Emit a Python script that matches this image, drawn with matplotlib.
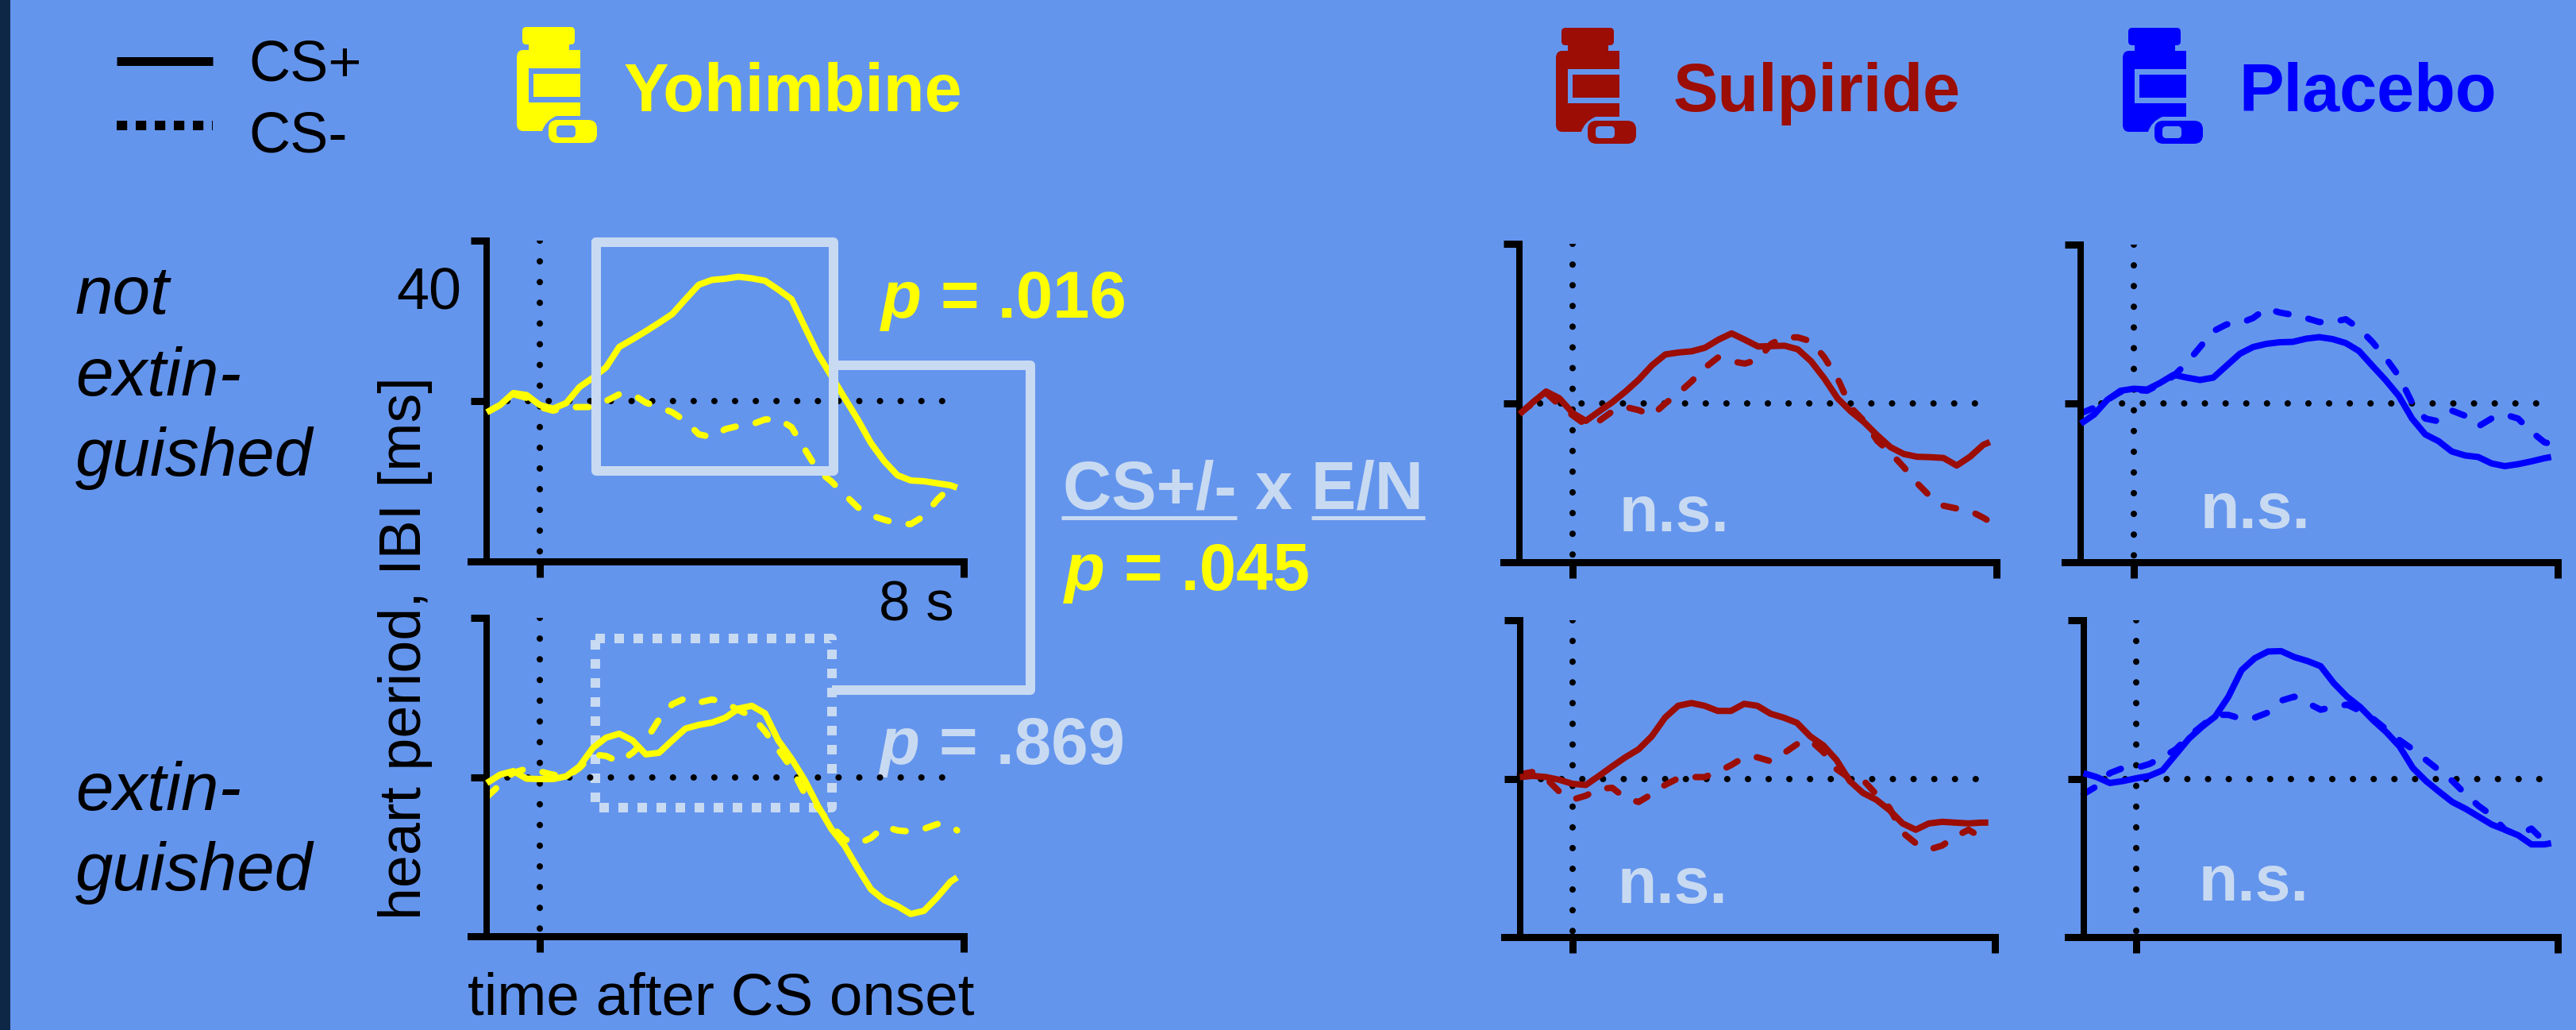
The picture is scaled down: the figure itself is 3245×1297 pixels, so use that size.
import numpy as np
import matplotlib
matplotlib.use("Agg")
import matplotlib.pyplot as plt
from matplotlib.patches import FancyBboxPatch, Rectangle, PathPatch
from matplotlib.path import Path

plt.rcParams['font.family'] = ['Liberation Sans', 'DejaVu Sans']

# time after CS onset [s]
time_s = [-1, -0.75, -0.5, -0.25, 0, 0.25, 0.5, 0.75, 1, 1.25, 1.5, 1.75, 2, 2.25, 2.5, 2.75, 3, 3.25, 3.5,
          3.75, 4, 4.25, 4.5, 4.75, 5, 5.25, 5.5, 5.75, 6, 6.25, 6.5, 6.75, 7, 7.25, 7.5, 7.75, 7.875]

# heart period change [ms]
yoh_not_plus = [-2.8, -1, 2, 1.5, -1, -1.9, -0.5, 3.5, 5.8, 8.4, 13.5, 15.4, 17.4, 19.5, 21.7, 25.4, 29, 30.2, 30.5,
                31, 30.6, 30, 27.8, 25.4, 18.5, 11.7, 6.3, 0.8, -4.6, -10.5, -15, -18.5, -19.8, -20, -20.5, -21, -21.6]
yoh_not_minus = [-2.8, -1, 1.7, 0.8, -1.5, -2.4, -1.6, -1.5, -1.5, 0, 1.7, 1.7, -0.4, -1.5, -2.8, -5, -8.3, -9, -7,
                 -6.2, -5.8, -4.6, -4.5, -6.5, -12, -17.4, -20, -23.3, -26.5, -28.5, -29.6, -30.5, -30.7, -28.7, -24.6, -21.5, -21.6]
yoh_ext_plus = [-1.5, 0.6, 1.5, -0.4, -0.5, -0.5, 0.2, 2.7, 7.3, 9.9, 10.9, 9.2, 5.7, 6.1, 9.2, 12.2, 13.1, 13.7, 14.9,
                17.2, 17.9, 16, 9.2, 4.6, -0.8, -7.3, -13, -17.2, -22.9, -28.2, -30.9, -32.4, -34.4, -33.6, -30.2, -26.3, -25.2]
yoh_ext_minus = [-5, -1.9, 1.1, 2.1, 1.4, 0.6, 0, 2.3, 5.7, 5.3, 3.8, 6.1, 9.2, 14.5, 18.3, 19.8, 18.7, 19.5, 18.7,
                 16.8, 15.3, 11.5, 6.9, 2.3, -4.2, -7.6, -12.2, -15.6, -16.8, -15.3, -12.4, -13.4, -13.7, -13, -11.8, -12.2, -13.4]

sul_not_plus = [-2.8, 0.2, 2.9, 1.2, -2.5, -4.5, -2.1, 0.2, 2.9, 5.9, 9.5, 12.2, 12.7, 13, 13.9, 15.9, 17.5, 15.9, 14.2,
                14.3, 14.4, 13.5, 10.5, 6.2, 1.2, -2.1, -4.8, -8.1, -11.1, -12.8, -13.5, -13.6, -13.8, -15.7, -13.5, -10.5, -9.8]
sul_not_minus = [-2.5, -0.1, 2.5, -0.5, -3.1, -5.5, -4.5, -2.1, -1, -1.8, -3.1, -0.1, 2.5, 5.5, 8.9, 11.5, 10.5, 9.9, 10.9,
                 14.9, 16.5, 16.5, 15.5, 11.5, 6.2, -1.1, -4.5, -9.5, -12.5, -16.1, -20.1, -23.5, -25.8, -26.5, -27.1, -28.8, -29.8]
sul_ext_plus = [0.4, 0.7, 0.4, -0.3, -1.3, -1.6, 0.7, 3.1, 5.4, 7.4, 10.7, 15.4, 18.4, 19.1, 18.4, 17.1, 17.1, 18.9, 18.4,
                16.4, 15.4, 14.1, 10.7, 8.4, 4.7, -0.6, -3.6, -5.3, -7.9, -11.3, -12.9, -11.3, -10.9, -11.1, -11.3, -11.1, -11.1]
sul_ext_minus = [1.1, 1.7, 0, -3.3, -5.3, -4.3, -2.6, -2.3, -4.9, -5.9, -3.9, -1.6, 0.1, 0.4, 0.4, 1.7, 3.4, 5.4, 5.4,
                 4.4, 6.4, 8.7, 9.7, 6.7, 2.4, 0.1, -0.3, -3.9, -7.3, -13.6, -16.3, -17.9, -16.9, -14.6, -12.9, -14.9, -15.9]

pla_not_plus = [-5.1, -2.8, 0.9, 3.2, 3.7, 3.5, 5.2, 7.2, 6.5, 5.9, 6.5, 9.5, 12.5, 14.2, 15, 15.4, 15.5, 16.3, 16.7,
                16.2, 15.2, 13.2, 9.5, 5.9, 1.9, -3.8, -7.8, -9.5, -12.1, -13.1, -13.5, -15.1, -15.8, -15.3, -14.6, -13.8, -13.5]
pla_not_minus = [-2.5, -1.1, 0.9, 2.9, 3.4, 3.2, 4.9, 6.9, 10.2, 14.2, 18.2, 19.9, 20.2, 21.5, 23.9, 22.9, 22.3, 21.5, 20.5,
                 20.5, 21.2, 18.9, 15.5, 11.5, 6.9, 0.2, -3.8, -4.5, -1.8, -3.1, -5.8, -3.8, -2.8, -3.8, -7.1, -9.8, -10.2]
pla_ext_plus = [1.4, 0.4, -1.1, -0.6, 0.1, 0.7, 2.1, 6.1, 10.1, 13.1, 15.7, 20.7, 27.4, 30.4, 32.1, 32.2, 30.7, 29.7, 28.4,
                24.1, 20.7, 18.1, 14.7, 11.7, 8.1, 2.7, -0.6, -3.3, -5.9, -7.6, -9.6, -11.6, -12.9, -14.3, -16.6, -16.6, -16.3]
pla_ext_minus = [-3.9, -1.9, 1.4, 2.7, 2.7, 3.7, 5.4, 7.4, 10.7, 13.4, 16.1, 16.1, 15.1, 15.4, 16.7, 19.7, 20.7, 19.1, 17.4,
                 18.1, 18.7, 17.1, 15.1, 12.4, 9.7, 7.4, 4.7, 2.1, -0.6, -3.9, -6.9, -9.3, -12.9, -14.3, -12.6, -15.9, -16.3]

drug_names = ["Yohimbine", "Sulpiride", "Placebo"]
drug_colors = ["#FFFF00", "#9B0D05", "#0000FF"]
row_labels = [["not", "extin-", "guished"], ["extin-", "guished"]]
light = "#C8DAF2"
bg_col = "#6495ED"

W, H = 3245, 1297
DPI = 100


def pt(px):
    return px * 72 / DPI


fig = plt.figure(figsize=(W / DPI, H / DPI), dpi=DPI, facecolor=bg_col)

# overlay in pixel coordinates, under the panels
bg = fig.add_axes([0, 0, 1, 1], zorder=0)
bg.set_xlim(0, W)
bg.set_ylim(H, 0)
bg.axis('off')
bg.add_patch(Rectangle((0, 0), 13, H, color="#0F2747", lw=0))

# same thing over the panels, the solid box hides the curve
top = fig.add_axes([0, 0, 1, 1], zorder=3)
top.set_xlim(0, W)
top.set_ylim(H, 0)
top.axis('off')
top.patch.set_alpha(0)


def bottle(x0, y0, col):
    # pill bottle icon, sizes in px from its top left corner
    bg.add_patch(FancyBboxPatch((x0 + 9, y0 + 2), 62, 18, boxstyle="round,pad=2,rounding_size=5", fc=col, ec='none'))
    bg.add_patch(Rectangle((x0 + 15, y0 + 20), 51, 10, fc=col, ec='none'))
    verts = [(x0 + 8, y0 + 29), (x0 + 80, y0 + 29), (x0 + 80, y0 + 112), (x0 + 50, y0 + 112), (x0 + 36, y0 + 118),
             (x0 + 32, y0 + 131), (x0 + 8, y0 + 131), (x0, y0 + 131), (x0, y0 + 122), (x0, y0 + 38), (x0, y0 + 29),
             (x0 + 8, y0 + 29)]
    codes = [Path.MOVETO, Path.LINETO, Path.LINETO, Path.LINETO, Path.CURVE3, Path.CURVE3, Path.LINETO, Path.CURVE3,
             Path.CURVE3, Path.LINETO, Path.CURVE3, Path.CURVE3]
    bg.add_patch(PathPatch(Path(verts, codes), fc=col, ec='none'))
    bg.add_patch(Rectangle((x0 + 15, y0 + 52), 65, 43, fc=bg_col, ec='none'))
    bg.add_patch(Rectangle((x0 + 21, y0 + 59), 59, 29, fc=col, ec='none'))
    bg.add_patch(FancyBboxPatch((x0 + 48, y0 + 125), 45, 13, boxstyle="round,pad=8,rounding_size=11", fc=col, ec='none'))
    bg.add_patch(FancyBboxPatch((x0 + 53, y0 + 127), 18, 9, boxstyle="round,pad=3,rounding_size=5", fc=bg_col, ec='none'))
    bg.add_patch(Rectangle((x0 + 62, y0 + 124), 9, 15, fc=bg_col, ec='none'))


def p_label(x, y, txt, col):
    bg.text(x, y, "p", color=col, fontsize=60, fontweight='bold', fontstyle='italic', va='baseline', ha='left')
    bg.text(x + 75, y, txt, color=col, fontsize=60, fontweight='bold', va='baseline', ha='left')


# legend
bg.plot([147, 268], [77, 77], color='black', lw=pt(11), solid_capstyle='butt')
bg.plot([147, 268], [158, 158], color='black', lw=pt(12), dashes=(1.1, 0.9), dash_capstyle='butt')
bg.text(313, 101, "CS+", fontsize=52, va='baseline')
bg.text(313, 192, "CS-", fontsize=52, va='baseline')

# drug titles
for name, col, icon_x, text_x, icon_y in zip(drug_names, drug_colors, [651, 1960, 2674], [786, 2108, 2820], [34, 35, 35]):
    bottle(icon_x, icon_y, col)
    bg.text(text_x, 140, name, color=col, fontsize=61, fontweight='bold', va='baseline')

# row labels
for txt, y in zip(row_labels[0], [395, 498, 599]):
    bg.text(95, y, txt, fontsize=61.5, fontstyle='italic', va='baseline')
for txt, y in zip(row_labels[1], [1020, 1121]):
    bg.text(95, y, txt, fontsize=61.5, fontstyle='italic', va='baseline')

bg.text(581, 389, "40", fontsize=53, ha='right', va='baseline')
bg.text(510, 816, "heart period, IBI [ms]", fontsize=53, rotation=90, ha='center', va='center')
bg.text(1107, 782, "8 s", fontsize=51, va='baseline')
bg.text(589, 1277, "time after CS onset", fontsize=53.7, va='baseline')

# stats
p_label(1110, 400, "= .016", drug_colors[0])
p_label(1341, 743, "= .045", drug_colors[0])
p_label(1108, 962, "= .869", light)
bg.text(1339, 641, "CS+/- x E/N", color=light, fontsize=61, fontweight='bold', va='baseline')
bg.plot([1337, 1558], [652, 652], color=light, lw=pt(5), solid_capstyle='butt')
bg.plot([1652, 1795], [652, 652], color=light, lw=pt(5), solid_capstyle='butt')
for x, y in zip([2039, 2771, 2037, 2769], [669, 665, 1137, 1134]):
    bg.text(x, y, "n.s.", color=light, fontsize=58, fontweight='bold', va='baseline')

# dotted box, this one goes under the curve
bg.plot([750, 1048, 1048, 750, 750], [804, 804, 1017, 1017, 804], color=light, lw=pt(12), dashes=(1, 1),
        dash_capstyle='butt', dash_joinstyle='round')

# solid box and the bracket, this goes over the curve
top.plot([751, 1050, 1050, 751, 751], [305, 305, 593, 593, 305], color=light, lw=pt(12), solid_joinstyle='round',
         solid_capstyle='round')
top.plot([1050, 1298, 1298, 1048], [460, 460, 869, 869], color=light, lw=pt(12), solid_joinstyle='round',
         solid_capstyle='butt')

# t0 px, end px, top px, bottom px for every panel
panels = [
    (680, 1214, 303, 707, yoh_not_plus, yoh_not_minus, 0),
    (1981, 2515, 307, 708, sul_not_plus, sul_not_minus, 1),
    (2688, 3222, 308, 708, pla_not_plus, pla_not_minus, 2),
    (680, 1214, 778, 1179, yoh_ext_plus, yoh_ext_minus, 0),
    (1981, 2513, 781, 1180, sul_ext_plus, sul_ext_minus, 1),
    (2691, 3222, 781, 1180, pla_ext_plus, pla_ext_minus, 2),
]

for t0, end, ytop, ybot, plus, minus, k in panels:
    per_s = (end - t0) / 8
    left_px = t0 - 1.3 * per_s
    ax = fig.add_axes([left_px / W, 1 - ybot / H, (end - left_px) / W, (ybot - ytop) / H], zorder=1)
    ax.patch.set_alpha(0)
    ax.set_xlim(-1.3, 8)
    ax.set_ylim(-40, 40)
    for s in ['top', 'right']:
        ax.spines[s].set_visible(False)
    ax.spines['left'].set_position(('data', -1))
    ax.spines['left'].set_linewidth(pt(8))
    ax.spines['bottom'].set_linewidth(pt(9))
    ax.set_xticks([0, 8])
    ax.set_yticks([0, 40])
    ax.tick_params(length=pt(20), width=pt(9), labelleft=False, labelbottom=False)

    ax.plot([0, 0], [40, -40], color='black', lw=pt(8), dashes=(0.01, 3.25), dash_capstyle='round', zorder=1)
    ax.plot([-1, 7.65], [0, 0], color='black', lw=pt(8), dashes=(0.01, 3.25), dash_capstyle='round', zorder=1)
    ax.plot(time_s, minus, color=drug_colors[k], lw=pt(8), dashes=(2, 3.2), dash_capstyle='round', clip_on=False, zorder=2)
    ax.plot(time_s, plus, color=drug_colors[k], lw=pt(8), solid_capstyle='butt', clip_on=False, zorder=3)

fig.savefig("out.png", dpi=DPI, facecolor=bg_col)
